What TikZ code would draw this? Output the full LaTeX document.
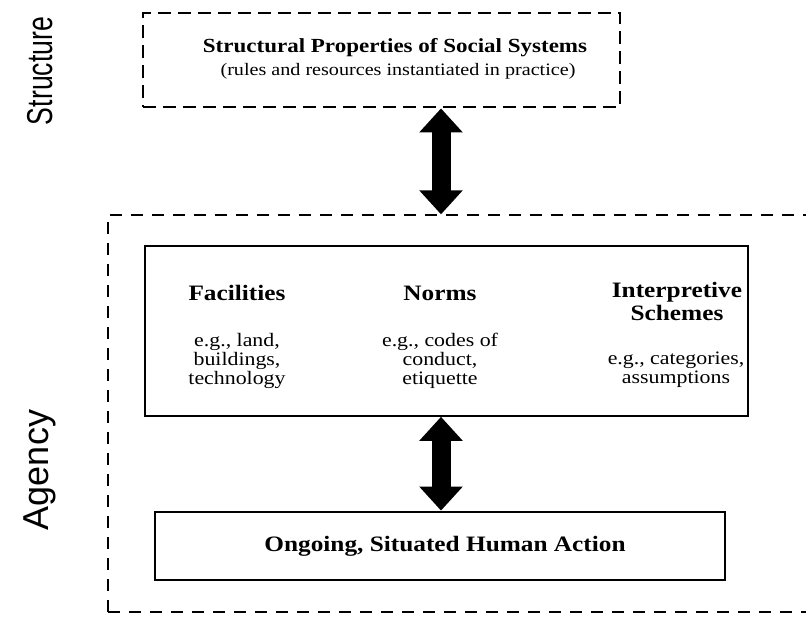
\documentclass[tikz,border=0pt]{standalone}
\usepackage{fontspec}
\setmainfont{Liberation Serif}[FakeStretch=1.15]
\setsansfont{Liberation Sans}
\usetikzlibrary{arrows.meta}
\begin{document}
\begin{tikzpicture}[x=1pt,y=-1pt,
  box/.style={rectangle, inner sep=0pt, anchor=center},
  dashbox/.style={box, draw, line width=2.8pt, dash pattern=on 13pt off 7pt},
  agencybox/.style={box, draw, line width=1.3pt, dash pattern=on 12pt off 9pt},
  solidbox/.style={box, draw, line width=1.6pt},
  actionbox/.style={box, draw, line width=2.8pt},
  titlefont/.style={font=\fontsize{20}{22}\selectfont\bfseries},
  subfont/.style={font=\fontsize{17.5}{19}\selectfont},
  headfont/.style={align=center, font=\fontsize{22}{23}\selectfont\bfseries},
  bodyfont/.style={align=center, font=\fontsize{19}{19}\selectfont},
  sidelabel/.style={font=\fontsize{36}{38}\selectfont\sffamily, rotate=90},
  dblarrow/.style={line width=19pt,
    {Triangle[width=42pt,length=24pt]}-{Triangle[width=42pt,length=24pt]}}
]
\useasboundingbox (0,0) rectangle (806,627);
\clip (0,0) rectangle (806,627);

% structural level
\node[dashbox, minimum width=477pt, minimum height=94pt] (top) at (381.5,60) {};
\node[titlefont] (toptitle) at (395,48) {Structural Properties of Social Systems};
\node[subfont] (topsub) at (398,71) {(rules and resources instantiated in practice)};

% modalities and interaction level
\node[agencybox, minimum width=722pt, minimum height=397pt] (agency) at (469,413.5) {};
\node[solidbox, minimum width=603pt, minimum height=170pt] (inner) at (446.5,331) {};
\node[actionbox, minimum width=570pt, minimum height=68pt] (action) at (440,546) {};
\node[font=\fontsize{22}{24}\selectfont\bfseries] (actiontext) at (445,546) {Ongoing, Situated Human Action};

% the three modalities
\node[headfont] (fac) at (237,293) {Facilities};
\node[bodyfont, anchor=north] (facex) at (237,330) {e.g., land,\\buildings,\\technology};
\node[headfont] (norms) at (440,293) {Norms};
\node[bodyfont, anchor=north] (normsex) at (440,330) {e.g., codes of\\conduct,\\etiquette};
\node[headfont, anchor=north] (interp) at (677,279) {Interpretive\\Schemes};
\node[bodyfont, anchor=north] (interpex) at (676,348) {e.g., categories,\\assumptions};

% side labels
\node[sidelabel] (lstructure) at (40,71) {\scalebox{0.74}[1]{Structure}};
\node[sidelabel] (lagency) at (40,470) {Agency};

% duality arrows
\coordinate (axis) at (441,0);
\draw[dblarrow] (top.south -| axis) -- (agency.north -| axis);
\draw[dblarrow] (inner.south -| axis) -- (action.north -| axis);
\end{tikzpicture}
\end{document}
